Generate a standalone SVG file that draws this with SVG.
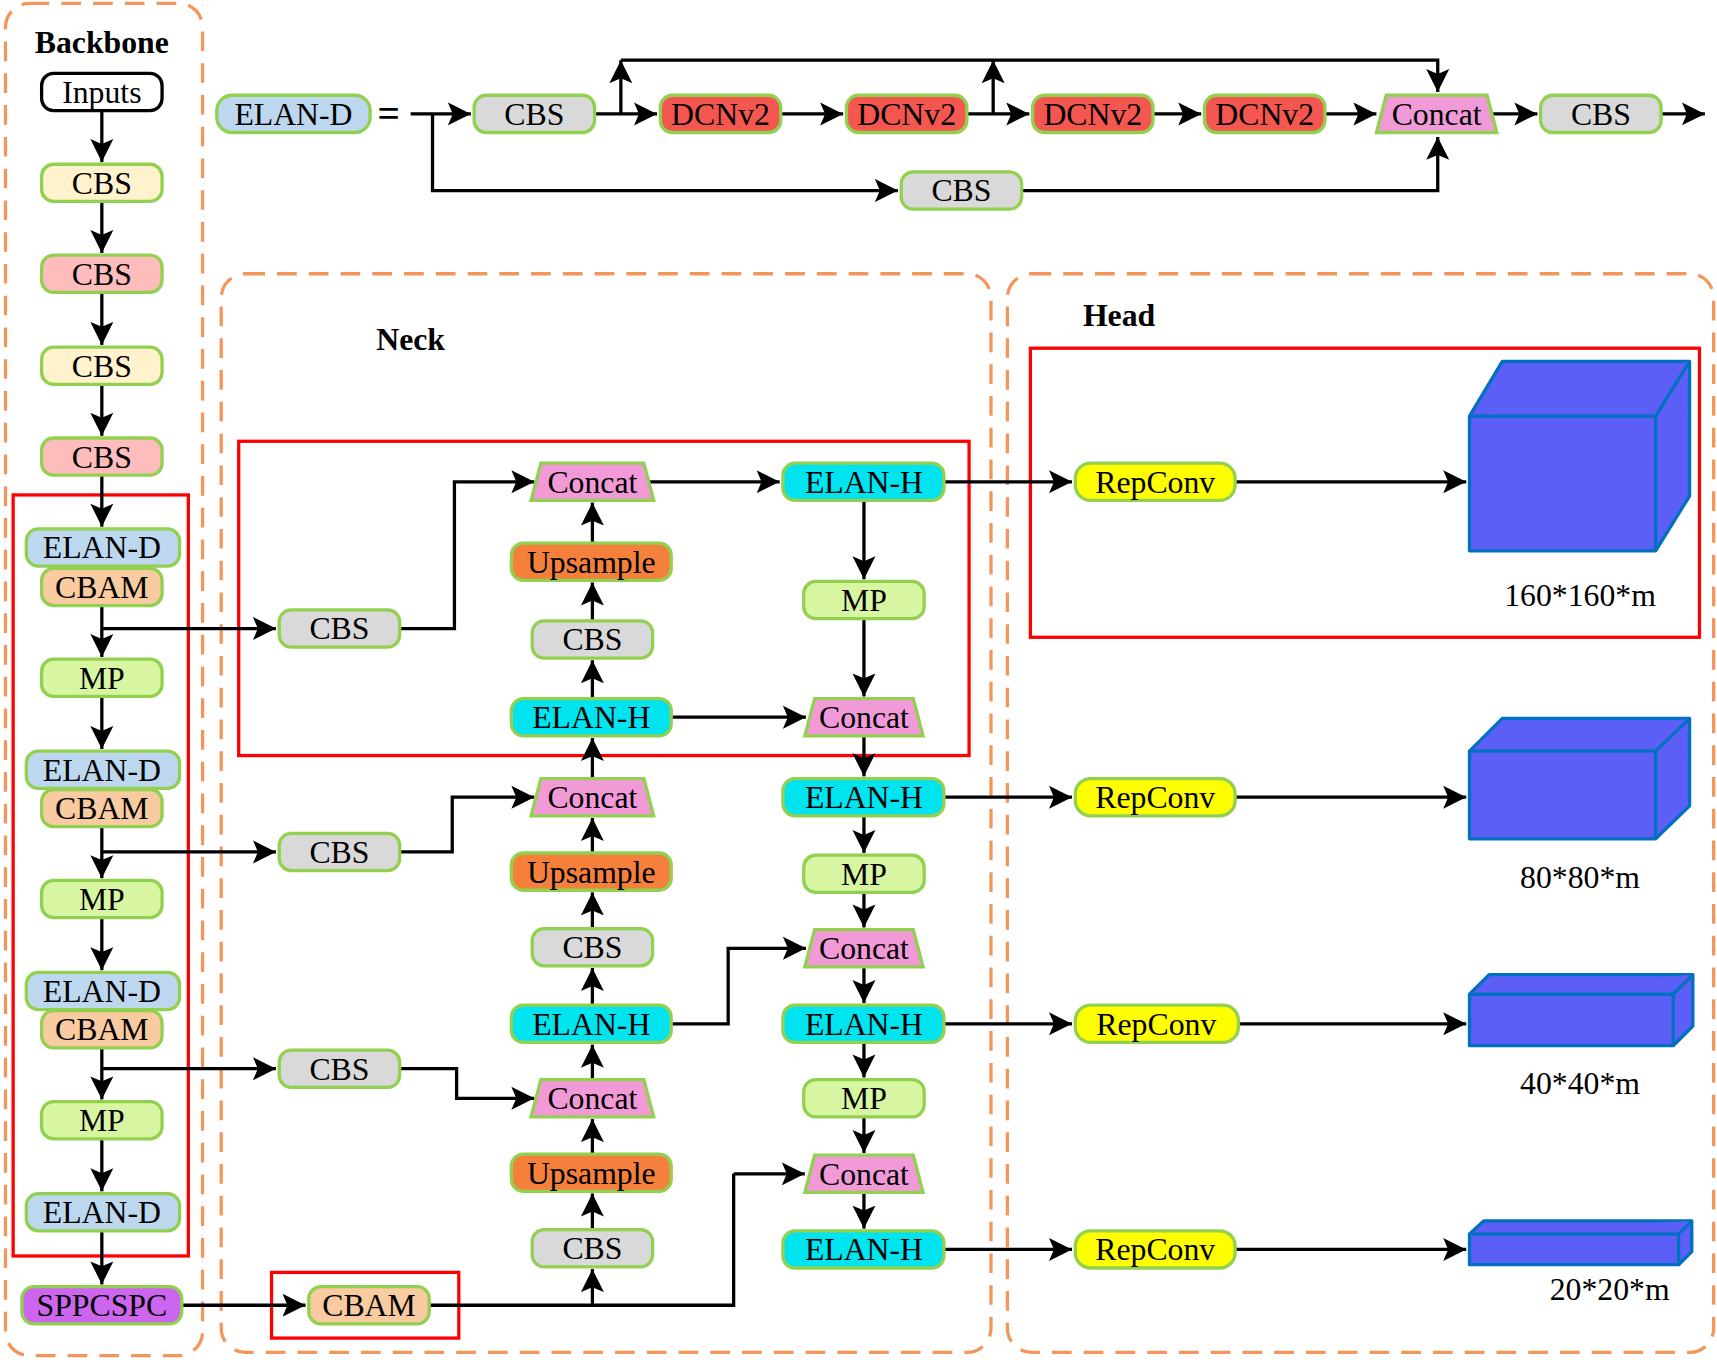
<svg xmlns="http://www.w3.org/2000/svg" width="1717" height="1360" viewBox="0 0 1717 1360">
<style>
.n{stroke:#92d050;stroke-width:3}
.t{font-family:"Liberation Serif",serif;font-size:29px;text-anchor:middle;fill:#000}
.b{font-family:"Liberation Serif",serif;font-size:29px;font-weight:bold;text-anchor:middle}
.dash{fill:none;stroke:#f4955a;stroke-width:3;stroke-dasharray:18 11}
.red{fill:none;stroke:#ff0000;stroke-width:3}
.c{fill:none;stroke:#000;stroke-width:3}
.a{fill:none;stroke:#000;stroke-width:3;marker-end:url(#ar)}
.cbs{fill:#d9d9d9}.y{fill:#fff2cc}.p{fill:#ffbcbc}.bl{fill:#bdd7ee}.o{fill:#f8cba0}.g{fill:#d8f5a2}
.pu{fill:#cc66ee}.dc{fill:#f4574f}.cc{fill:#f29ad8}.up{fill:#f4803c}.eh{fill:#00e4ef}.rc{fill:#ffff00}
.cube{fill:#5b5ff5;stroke:#0070c0;stroke-width:3;stroke-linejoin:round}
</style>
<defs><marker id="ar" markerWidth="8" markerHeight="8" refX="7" refY="4" orient="auto" markerUnits="strokeWidth"><path d="M0,0.5 L7,4 L0,7.5 L1.5,4 Z" fill="#000"/></marker></defs>
<rect width="1717" height="1360" fill="#fff"/>
<g transform="scale(1.095)">
<g id="frames">
<rect class="dash" x="5" y="3" width="180" height="1235" rx="22"/>
<rect class="dash" x="202" y="250" width="703" height="985" rx="22"/>
<rect class="dash" x="920" y="250" width="645" height="985" rx="22"/>
<rect class="red" x="12" y="452" width="160" height="695"/>
<rect class="red" x="218" y="403" width="667" height="287"/>
<rect class="red" x="941" y="318" width="611" height="264"/>
<rect class="red" x="248" y="1162" width="171" height="60"/>
<text class="b" x="93" y="48">Backbone</text>
<text class="b" x="375" y="320">Neck</text>
<text class="b" x="1022" y="298">Head</text>
</g>
<g id="connectors">
<path class="a" d="M93,101 V148"/><path class="a" d="M93,184 V231"/><path class="a" d="M93,267 V315"/><path class="a" d="M93,351 V398"/><path class="a" d="M93,434 V481"/>
<path class="a" d="M93,553 V600"/><path class="a" d="M93,636 V684"/><path class="a" d="M93,755 V802"/><path class="a" d="M93,838 V886"/><path class="a" d="M93,957 V1004"/><path class="a" d="M93,1040 V1088"/><path class="a" d="M93,1124 V1173"/>
<path class="a" d="M93,574 H252"/><path class="a" d="M93,778 H252"/><path class="a" d="M93,976 H252"/>
<path class="a" d="M365,574 H415 V440 H488"/><path class="a" d="M365,778 H413 V728 H488"/><path class="a" d="M365,976 H417 V1003 H488"/>
<path class="a" d="M166,1192 H279"/>
<path class="c" d="M392,1192 H670 V1072"/><path class="a" d="M670,1072 H735"/><path class="a" d="M541,1192 V1159"/>
<path class="a" d="M541,1123 V1090"/><path class="a" d="M541,1054 V1022"/><path class="a" d="M541,985 V954"/><path class="a" d="M541,918 V884"/><path class="a" d="M541,848 V815"/><path class="a" d="M541,779 V747"/><path class="a" d="M541,710 V674"/><path class="a" d="M541,638 V603"/><path class="a" d="M541,567 V532"/><path class="a" d="M541,496 V459"/>
<path class="a" d="M593,440 H712"/><path class="a" d="M613,655 H736"/><path class="a" d="M613,935 H665 V866 H736"/>
<path class="a" d="M789,457 V529"/><path class="a" d="M789,565 V636"/><path class="a" d="M789,673 V709"/><path class="a" d="M789,745 V779"/><path class="a" d="M789,815 V847"/><path class="a" d="M789,883 V916"/><path class="a" d="M789,952 V984"/><path class="a" d="M789,1020 V1053"/><path class="a" d="M789,1090 V1122"/>
<path class="a" d="M862,440 H979"/><path class="a" d="M862,728 H979"/><path class="a" d="M862,935 H979"/><path class="a" d="M862,1141 H979"/>
<path class="a" d="M1128,440 H1339"/><path class="a" d="M1128,728 H1339"/><path class="a" d="M1131,935 H1339"/><path class="a" d="M1128,1141 H1339"/>
<path class="a" d="M375,104 H430"/><path class="a" d="M395,104 V174 H820"/><path class="a" d="M933,174 H1313 V125"/>
<path class="a" d="M543,104 H600"/><path class="a" d="M567,104 V55"/><path class="a" d="M567,55 H1313 V84"/><path class="a" d="M907,104 V55"/>
<path class="a" d="M713,104 H770"/><path class="a" d="M883,104 H940"/><path class="a" d="M1053,104 H1097"/><path class="a" d="M1210,104 H1257"/><path class="a" d="M1362,104 H1404"/><path class="a" d="M1517,104 H1557"/>
</g>
<g id="inputs"><rect x="38" y="67" width="110" height="34" rx="11" fill="#fff" stroke="#000" stroke-width="3"/><text class="t" x="93" y="94">Inputs</text></g>
<g id="bb-cbs1"><rect class="n y" x="38" y="150" width="110" height="34" rx="11"/><text class="t" x="93" y="177">CBS</text></g>
<g id="bb-cbs2"><rect class="n p" x="38" y="233" width="110" height="34" rx="11"/><text class="t" x="93" y="260">CBS</text></g>
<g id="bb-cbs3"><rect class="n y" x="38" y="317" width="110" height="34" rx="11"/><text class="t" x="93" y="344">CBS</text></g>
<g id="bb-cbs4"><rect class="n p" x="38" y="400" width="110" height="34" rx="11"/><text class="t" x="93" y="427">CBS</text></g>
<g id="bb-elan1"><rect class="n bl" x="24" y="483" width="140" height="34" rx="11"/><text class="t" x="93" y="510">ELAN-D</text></g>
<g id="bb-cbam1"><rect class="n o" x="38" y="519" width="110" height="34" rx="11"/><text class="t" x="93" y="546">CBAM</text></g>
<g id="bb-mp1"><rect class="n g" x="38" y="602" width="110" height="34" rx="11"/><text class="t" x="93" y="629">MP</text></g>
<g id="bb-elan2"><rect class="n bl" x="24" y="686" width="140" height="34" rx="11"/><text class="t" x="93" y="713">ELAN-D</text></g>
<g id="bb-cbam2"><rect class="n o" x="38" y="721" width="110" height="34" rx="11"/><text class="t" x="93" y="748">CBAM</text></g>
<g id="bb-mp2"><rect class="n g" x="38" y="804" width="110" height="34" rx="11"/><text class="t" x="93" y="831">MP</text></g>
<g id="bb-elan3"><rect class="n bl" x="24" y="888" width="140" height="34" rx="11"/><text class="t" x="93" y="915">ELAN-D</text></g>
<g id="bb-cbam3"><rect class="n o" x="38" y="923" width="110" height="34" rx="11"/><text class="t" x="93" y="950">CBAM</text></g>
<g id="bb-mp3"><rect class="n g" x="38" y="1006" width="110" height="34" rx="11"/><text class="t" x="93" y="1033">MP</text></g>
<g id="bb-elan4"><rect class="n bl" x="24" y="1090" width="140" height="34" rx="11"/><text class="t" x="93" y="1117">ELAN-D</text></g>
<g id="sppcspc"><rect class="n pu" x="20" y="1175" width="146" height="34" rx="11"/><text class="t" x="93" y="1202">SPPCSPC</text></g>
<g id="nk-cbs-a"><rect class="n cbs" x="255" y="557" width="110" height="34" rx="11"/><text class="t" x="310" y="584">CBS</text></g>
<g id="nk-cbs-b"><rect class="n cbs" x="255" y="761" width="110" height="34" rx="11"/><text class="t" x="310" y="788">CBS</text></g>
<g id="nk-cbs-c"><rect class="n cbs" x="255" y="959" width="110" height="34" rx="11"/><text class="t" x="310" y="986">CBS</text></g>
<g id="nk-cbam"><rect class="n o" x="282" y="1175" width="110" height="34" rx="11"/><text class="t" x="337" y="1202">CBAM</text></g>
<g id="nk-concat1"><path class="n cc" d="M494,423 H588 L597,457 H485 Z"/><text class="t" x="541" y="450">Concat</text></g>
<g id="nk-up1"><rect class="n up" x="467" y="496" width="146" height="34" rx="11"/><text class="t" x="540" y="523">Upsample</text></g>
<g id="nk-cbs1"><rect class="n cbs" x="486" y="567" width="110" height="34" rx="11"/><text class="t" x="541" y="594">CBS</text></g>
<g id="nk-eh1"><rect class="n eh" x="467" y="638" width="146" height="34" rx="11"/><text class="t" x="540" y="665">ELAN-H</text></g>
<g id="nk-concat2"><path class="n cc" d="M494,711 H588 L597,745 H485 Z"/><text class="t" x="541" y="738">Concat</text></g>
<g id="nk-up2"><rect class="n up" x="467" y="779" width="146" height="34" rx="11"/><text class="t" x="540" y="806">Upsample</text></g>
<g id="nk-cbs2"><rect class="n cbs" x="486" y="848" width="110" height="34" rx="11"/><text class="t" x="541" y="875">CBS</text></g>
<g id="nk-eh2"><rect class="n eh" x="467" y="918" width="146" height="34" rx="11"/><text class="t" x="540" y="945">ELAN-H</text></g>
<g id="nk-concat3"><path class="n cc" d="M494,986 H588 L597,1020 H485 Z"/><text class="t" x="541" y="1013">Concat</text></g>
<g id="nk-up3"><rect class="n up" x="467" y="1054" width="146" height="34" rx="11"/><text class="t" x="540" y="1081">Upsample</text></g>
<g id="nk-cbs3"><rect class="n cbs" x="486" y="1123" width="110" height="34" rx="11"/><text class="t" x="541" y="1150">CBS</text></g>
<g id="r-eh1"><rect class="n eh" x="715" y="423" width="147" height="34" rx="11"/><text class="t" x="789" y="450">ELAN-H</text></g>
<g id="r-mp1"><rect class="n g" x="734" y="531" width="110" height="34" rx="11"/><text class="t" x="789" y="558">MP</text></g>
<g id="r-concat1"><path class="n cc" d="M744,638 H834 L843,672 H735 Z"/><text class="t" x="789" y="665">Concat</text></g>
<g id="r-eh2"><rect class="n eh" x="715" y="711" width="147" height="34" rx="11"/><text class="t" x="789" y="738">ELAN-H</text></g>
<g id="r-mp2"><rect class="n g" x="734" y="781" width="110" height="34" rx="11"/><text class="t" x="789" y="808">MP</text></g>
<g id="r-concat2"><path class="n cc" d="M744,849 H834 L843,883 H735 Z"/><text class="t" x="789" y="876">Concat</text></g>
<g id="r-eh3"><rect class="n eh" x="715" y="918" width="147" height="34" rx="11"/><text class="t" x="789" y="945">ELAN-H</text></g>
<g id="r-mp3"><rect class="n g" x="734" y="986" width="110" height="34" rx="11"/><text class="t" x="789" y="1013">MP</text></g>
<g id="r-concat3"><path class="n cc" d="M744,1055 H834 L843,1089 H735 Z"/><text class="t" x="789" y="1082">Concat</text></g>
<g id="r-eh4"><rect class="n eh" x="715" y="1124" width="147" height="34" rx="11"/><text class="t" x="789" y="1151">ELAN-H</text></g>
<g id="rep1"><rect class="n rc" x="982" y="423" width="146" height="34" rx="14"/><text class="t" x="1055" y="450">RepConv</text></g>
<g id="rep2"><rect class="n rc" x="982" y="711" width="146" height="34" rx="14"/><text class="t" x="1055" y="738">RepConv</text></g>
<g id="rep3"><rect class="n rc" x="982" y="918" width="149" height="34" rx="14"/><text class="t" x="1056" y="945">RepConv</text></g>
<g id="rep4"><rect class="n rc" x="982" y="1124" width="146" height="34" rx="14"/><text class="t" x="1055" y="1151">RepConv</text></g>
<g id="cube1"><path class="cube" d="M1342,380 L1372,330 H1543 V453 L1512,503 H1342 Z"/><path class="cube" d="M1342,380 H1512 L1543,330 M1512,380 V503" fill="none"/><text class="t" x="1443" y="553">160*160*m</text></g>
<g id="cube2"><path class="cube" d="M1342,686 L1372,656 H1543 V736 L1512,766 H1342 Z"/><path class="cube" d="M1342,686 H1512 L1543,656 M1512,686 V766" fill="none"/><text class="t" x="1443" y="811">80*80*m</text></g>
<g id="cube3"><path class="cube" d="M1342,908 L1360,890 H1546 V937 L1528,955 H1342 Z"/><path class="cube" d="M1342,908 H1528 L1546,890 M1528,908 V955" fill="none"/><text class="t" x="1443" y="999">40*40*m</text></g>
<g id="cube4"><path class="cube" d="M1342,1127 L1355,1115 H1545 V1143 L1533,1155 H1342 Z"/><path class="cube" d="M1342,1127 H1533 L1545,1115 M1533,1127 V1155" fill="none"/><text class="t" x="1470" y="1187">20*20*m</text></g>
<g id="def-elan"><rect class="n bl" x="198" y="87" width="140" height="34" rx="14"/><text class="t" x="268" y="114">ELAN-D</text><text class="t" x="355" y="116" style="font-size:36px;font-weight:bold">=</text></g>
<g id="def-cbs1"><rect class="n cbs" x="433" y="87" width="110" height="34" rx="11"/><text class="t" x="488" y="114">CBS</text></g>
<g id="def-d1"><rect class="n dc" x="603" y="87" width="110" height="34" rx="11"/><text class="t" x="658" y="114">DCNv2</text></g>
<g id="def-d2"><rect class="n dc" x="773" y="87" width="110" height="34" rx="11"/><text class="t" x="828" y="114">DCNv2</text></g>
<g id="def-d3"><rect class="n dc" x="943" y="87" width="110" height="34" rx="11"/><text class="t" x="998" y="114">DCNv2</text></g>
<g id="def-d4"><rect class="n dc" x="1100" y="87" width="110" height="34" rx="11"/><text class="t" x="1155" y="114">DCNv2</text></g>
<g id="def-concat"><path class="n cc" d="M1266,87 H1358 L1367,121 H1257 Z"/><text class="t" x="1312" y="114">Concat</text></g>
<g id="def-cbs2"><rect class="n cbs" x="1407" y="87" width="110" height="34" rx="11"/><text class="t" x="1462" y="114">CBS</text></g>
<g id="def-cbs3"><rect class="n cbs" x="823" y="157" width="110" height="34" rx="11"/><text class="t" x="878" y="184">CBS</text></g>
</g>
</svg>
